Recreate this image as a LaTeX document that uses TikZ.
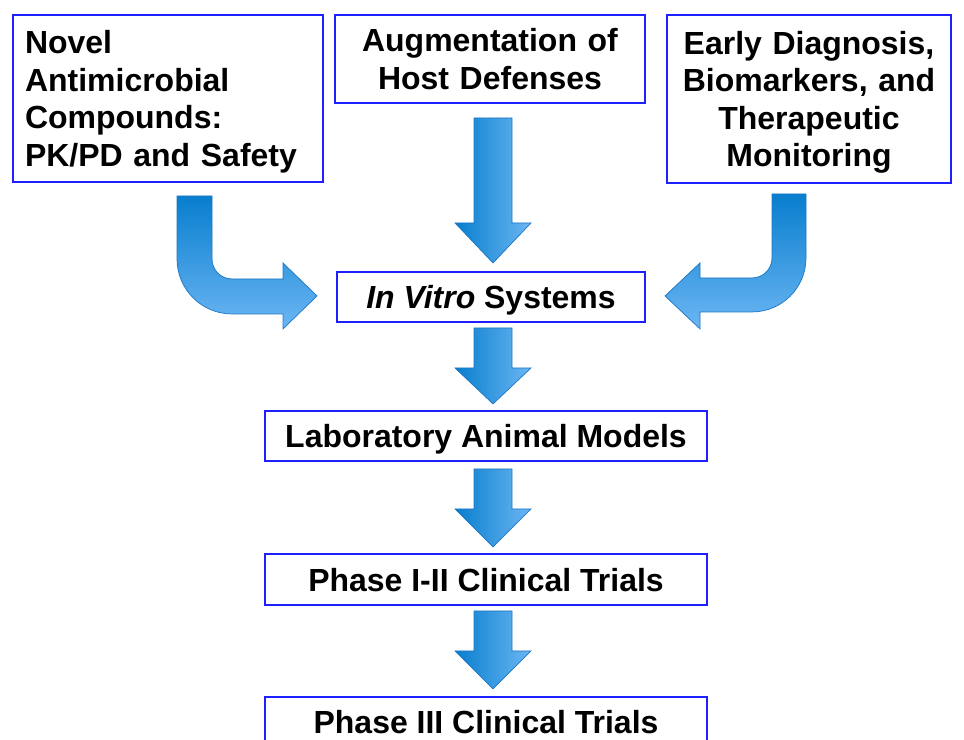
\documentclass[tikz,border=0pt]{standalone}
\usepackage{fontspec}
\setmainfont{Liberation Sans}
\usetikzlibrary{calc}
\definecolor{boxblue}{RGB}{30,30,255}
\definecolor{arrowdark}{RGB}{8,126,206}
\definecolor{arrowlight}{RGB}{108,182,243}
\definecolor{arrowedge}{RGB}{28,118,196}

% straight block arrow: top centre, shaft length, head length
\newcommand{\downblock}[3]{%
\shade[blockdown] (#1) ++(-19,0) -- ++(38,0) -- ++(0,#2) -- ++(19,0) -- ++(-38,#3) -- ++(-38,-#3) -- ++(19,0) -- cycle;}

\begin{document}
\begin{tikzpicture}[x=0.02cm, y=-0.02cm,
  box/.style={draw=boxblue, line width=1.1pt, inner sep=0pt, text height=0.46cm, text depth=0pt, font=\fontsize{18.2}{21.3}\selectfont\bfseries},
  blockdown/.style={left color=arrowdark, right color=arrowlight, draw=arrowedge, line width=0.4pt},
  blockbent/.style={top color=arrowdark, bottom color=arrowlight, draw=arrowedge, line width=0.4pt}]
\useasboundingbox (0,0) rectangle (964,740);

%the three sources
\node (novel) [box, text depth=63.9pt, minimum width=6.2cm, minimum height=3.34cm, text width=5.72cm, align=left] at (168,98.5) {Novel\\Antimicrobial\\Compounds:\\PK/PD and Safety};
\node (aug) [box, text depth=21.3pt, minimum width=6.2cm, minimum height=1.76cm, text width=6cm, align=center] at (490,59) {Augmentation of\\Host Defenses};
\node (early) [box, text depth=63.9pt, minimum width=5.68cm, minimum height=3.36cm, text width=5.5cm, align=center] at (809,99) {Early Diagnosis,\\Biomarkers, and\\Therapeutic\\Monitoring};

%the pipeline
\node (invitro) [box, minimum width=6.16cm, minimum height=1cm] at (491,297) {\textit{In Vitro} Systems};
\node (lab) [box, minimum width=8.84cm, minimum height=1cm] at (486,436) {Laboratory Animal Models};
\node (phase12) [box, minimum width=8.84cm, minimum height=1.02cm] at (486,579.5) {Phase I-II Clinical Trials};
\node (phase3) [box, minimum width=8.84cm, minimum height=1cm] at (486,722) {Phase III Clinical Trials};

%the bent arrows
\shade[blockbent] ($(novel.south)+(9,13)$) -- ++(35,0) -- ++(0,63) arc (180:90:20) -- ++(51,0) -- ++(0,-16) -- ++(34,33) -- ++(-34,33) -- ++(0,-15) -- ++(-51,0) arc (90:180:55) -- cycle;
\shade[blockbent] ($(early.south)+(-37,10)$) -- ++(34,0) -- ++(0,64) arc (0:90:54) -- ++(-52,0) -- ++(0,17) -- ++(-35,-33) -- ++(35,-33) -- ++(0,15) -- ++(52,0) arc (90:0:20) -- cycle;

%the straight arrows
\downblock{$(aug.south)+(3,14)$}{105}{40}
\downblock{$(invitro.south)+(2,5)$}{40}{36}
\downblock{$(lab.south)+(7,7)$}{40}{38}
\downblock{$(phase12.south)+(7,5)$}{40}{38}
\end{tikzpicture}
\end{document}
